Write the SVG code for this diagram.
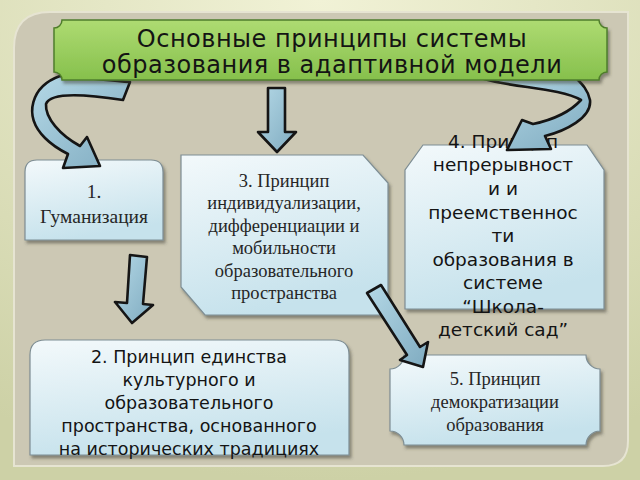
<svg xmlns="http://www.w3.org/2000/svg" width="640" height="480" viewBox="0 0 640 480">
<defs>
<radialGradient id="bg" cx="0.5" cy="0" r="1">
<stop offset="0" stop-color="#f1f2d6"/><stop offset="1" stop-color="#cdd1a6"/>
</radialGradient>
<linearGradient id="nodeFill" x1="0" y1="0" x2="0.3" y2="1">
<stop offset="0" stop-color="#f3f9fb"/><stop offset="1" stop-color="#c6e2ec"/>
</linearGradient>
<linearGradient id="titleFill" x1="0" y1="0" x2="0" y2="1">
<stop offset="0" stop-color="#aedb72"/><stop offset="1" stop-color="#86c04c"/>
</linearGradient>
<linearGradient id="arrowFill" x1="0" y1="0" x2="1" y2="1">
<stop offset="0" stop-color="#b4d8e6"/><stop offset="1" stop-color="#7fabc0"/>
</linearGradient>
<filter id="sh" x="-10%" y="-10%" width="130%" height="130%">
<feDropShadow dx="2" dy="3" stdDeviation="1.5" flood-color="#3a3a30" flood-opacity="0.5"/>
</filter>
<style>
.node{fill:url(#nodeFill);stroke:#7d8d93;stroke-width:1.2;filter:url(#sh)}
.arrow{fill:url(#arrowFill);stroke:#151515;stroke-width:2.6;stroke-linejoin:round}
.serif{font-family:"Liberation Serif","Times New Roman",serif;fill:#262626;text-anchor:middle}
.sans{font-family:"DejaVu Sans","Noto Sans",sans-serif;fill:#141414;text-anchor:middle}
</style>
</defs>
<rect x="0" y="0" width="640" height="480" fill="url(#bg)"/>
<path d="M50,12 H628 V441 Q628,466 603,466 H14 V48 Q14,12 50,12 Z" fill="#ccc8b4" stroke="#e6e4d2" stroke-width="2"/>

<g id="node1">
<path class="node" d="M25,240 V172 Q25,160 37,160 H151 Q163,160 163,172 V240 Z"/>
<text class="serif" x="94" y="198" font-size="19.5">1.</text>
<text class="serif" x="94" y="223" font-size="19.5">Гуманизация</text>
</g>
<g id="node3">
<path class="node" d="M181,155 H363 L388,183 V315 H205 L181,287 Z"/>
<g class="serif" font-size="18.5">
<text x="284" y="187">3. Принцип</text>
<text x="284" y="209">индивидуализации,</text>
<text x="284" y="232">дифференциации и</text>
<text x="284" y="254">мобильности</text>
<text x="284" y="277">образовательного</text>
<text x="284" y="299">пространства</text>
</g>
</g>
<g id="node4">
<path class="node" d="M423,145 H587 L604,170 V309 H405 V170 Z"/>
<g class="sans" font-size="18.5">
<text x="503" y="148">4. Принцип</text>
<text x="503" y="171">непрерывност</text>
<text x="503" y="195">и и</text>
<text x="503" y="219">преемственнос</text>
<text x="503" y="242">ти</text>
<text x="503" y="266">образования в</text>
<text x="503" y="289">системе</text>
<text x="503" y="313">“Школа-</text>
<text x="503" y="336">детский сад”</text>
</g>
</g>
<g id="node2">
<path class="node" d="M30,455 V355 Q30,340 45,340 H334 Q349,340 349,355 V455 Z"/>
<g class="sans" font-size="17.5">
<text x="189" y="363">2. Принцип единства</text>
<text x="189" y="386">культурного и</text>
<text x="189" y="409">образовательного</text>
<text x="189" y="432">пространства, основанного</text>
<text x="189" y="455">на исторических традициях</text>
</g>
</g>
<g id="node5">
<path class="node" d="M404,355 H586 A14,14 0 0 0 600,369 V431 A14,14 0 0 0 586,445 H404 A14,14 0 0 0 390,431 V369 A14,14 0 0 0 404,355 Z"/>
<g class="serif" font-size="18.5">
<text x="495" y="385">5. Принцип</text>
<text x="495" y="408">демократизации</text>
<text x="495" y="431">образования</text>
</g>
</g>

<g id="connectors">
<path class="arrow" d="M60,76 C32,86 22,115 45,138 C52,145 60,150 68,154 L63,168 L100,166 L87,137 L80,146 C60,135 45,118 46,104 C50,92 85,94 123,100 L130,82 C105,80 80,77 60,76 Z"/>
<path class="arrow" d="M484,79 C515,88 560,88 581,100 C570,112 552,120 533,124 L522,120 L507,150 L551,149 L545,136 C565,131 592,118 590,100 C588,90 582,84 577,79 Z"/>
<path class="arrow" d="M268,88 H285 V132 H296 L277,152 L258,132 H268 Z"/>
<path class="arrow" d="M130,255 L147,257 L143,304 L153,305 L132,323 L115,302 L127,303 Z"/>
<path class="arrow" d="M367,293 L381,285 L420,347 L428,342 L423,367 L400,360 L407,355 Z"/>
</g>

<g id="title">
<path d="M62,20 H599 A8,8 0 0 0 607,28 V72 A8,8 0 0 0 599,80 H62 A8,8 0 0 0 54,72 V28 A8,8 0 0 0 62,20 Z" fill="url(#titleFill)" stroke="#4f7d2c" stroke-width="1.5" filter="url(#sh)"/>
<g class="sans" font-size="24" letter-spacing="0.5">
<text x="332" y="47">Основные принципы системы</text>
<text x="332" y="73">образования в адаптивной модели</text>
</g>
</g>
</svg>
